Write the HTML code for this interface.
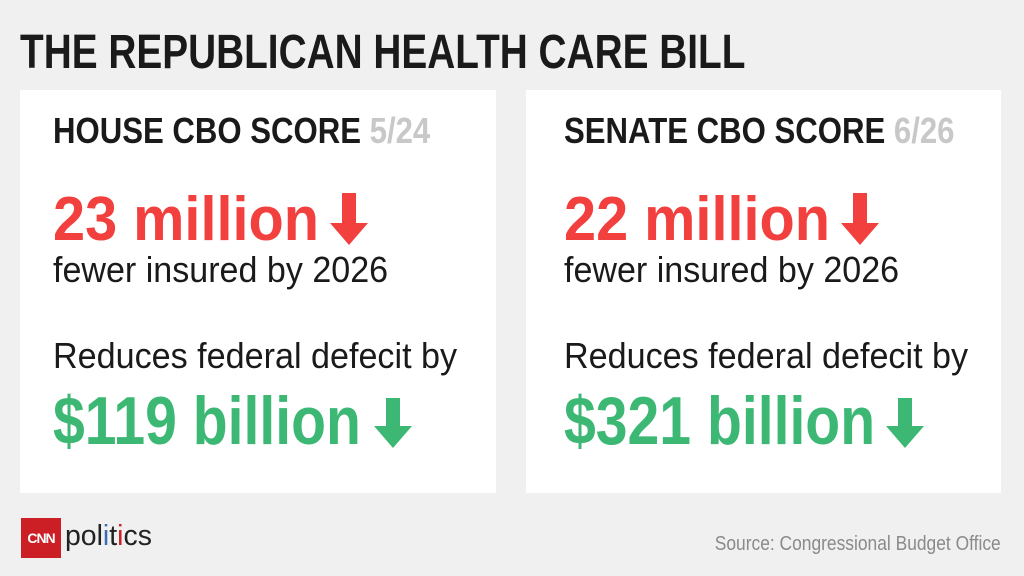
<!DOCTYPE html>
<html><head><meta charset="utf-8">
<style>
body{margin:0;width:1024px;height:576px;background:#f0f0f0;position:relative;overflow:hidden;font-family:"Liberation Sans",sans-serif;}
.a{position:absolute;white-space:nowrap;line-height:1;transform-origin:0 0;}
.card{position:absolute;background:#fff;top:90px;height:403px;}
.b{font-weight:bold;}
.red{color:#f2403f;}
.green{color:#3cb874;}
svg{position:absolute;}
</style></head><body>
<div class="a b" style="left:20px;top:29px;font-size:48px;color:#1a1a1a;transform:scaleX(0.808);">THE REPUBLICAN HEALTH CARE BILL</div>

<div class="card" style="left:20px;width:476px;"></div>
<div class="card" style="left:526px;width:475px;"></div>

<div class="a b" style="left:53px;top:113px;font-size:36px;color:#1a1a1a;transform:scaleX(0.865);">HOUSE CBO SCORE <span style="color:#c8c8c8">5/24</span></div>
<div class="a b red" style="left:53px;top:189px;font-size:62px;transform:scaleX(0.93);">23 million</div>
<svg style="left:328px;top:193px" width="42" height="52" viewBox="0 0 42 52"><path d="M14 0h14v30h12L21 52 2 30h12z" fill="#f2403f"/></svg>
<div class="a" style="left:53px;top:252px;font-size:36px;color:#1a1a1a;transform:scaleX(0.946);">fewer insured by 2026</div>
<div class="a" style="left:53px;top:338px;font-size:36px;color:#1a1a1a;transform:scaleX(0.948);">Reduces federal defecit by</div>
<div class="a b green" style="left:53px;top:387px;font-size:68px;transform:scaleX(0.84);">$119 billion</div>
<svg style="left:372px;top:398px" width="42" height="50" viewBox="0 0 42 50"><path d="M14 0h14v28h12L21 50 2 28h12z" fill="#3cb874"/></svg>

<div class="a b" style="left:564px;top:113px;font-size:36px;color:#1a1a1a;transform:scaleX(0.865);">SENATE CBO SCORE <span style="color:#c8c8c8">6/26</span></div>
<div class="a b red" style="left:564px;top:189px;font-size:62px;transform:scaleX(0.93);">22 million</div>
<svg style="left:839px;top:193px" width="42" height="52" viewBox="0 0 42 52"><path d="M14 0h14v30h12L21 52 2 30h12z" fill="#f2403f"/></svg>
<div class="a" style="left:564px;top:252px;font-size:36px;color:#1a1a1a;transform:scaleX(0.946);">fewer insured by 2026</div>
<div class="a" style="left:564px;top:338px;font-size:36px;color:#1a1a1a;transform:scaleX(0.948);">Reduces federal defecit by</div>
<div class="a b green" style="left:564px;top:387px;font-size:68px;transform:scaleX(0.84);">$321 billion</div>
<svg style="left:884px;top:398px" width="42" height="50" viewBox="0 0 42 50"><path d="M14 0h14v28h12L21 50 2 28h12z" fill="#3cb874"/></svg>

<div style="position:absolute;left:21px;top:518px;width:40px;height:40px;background:#cc1f25;color:#fff;font:bold 14px 'Liberation Sans',sans-serif;line-height:40px;text-align:center;letter-spacing:-1px;">CNN</div>
<div class="a" style="left:65px;top:522px;font-size:29px;color:#222;transform:scaleX(0.98);">pol<span style="color:#3a6db5">i</span>t<span style="color:#cc1f25">i</span>cs</div>
<div class="a" style="right:23px;top:534px;font-size:20px;color:#8a8a8a;transform-origin:100% 0;transform:scaleX(0.87);">Source: Congressional Budget Office</div>
</body></html>
